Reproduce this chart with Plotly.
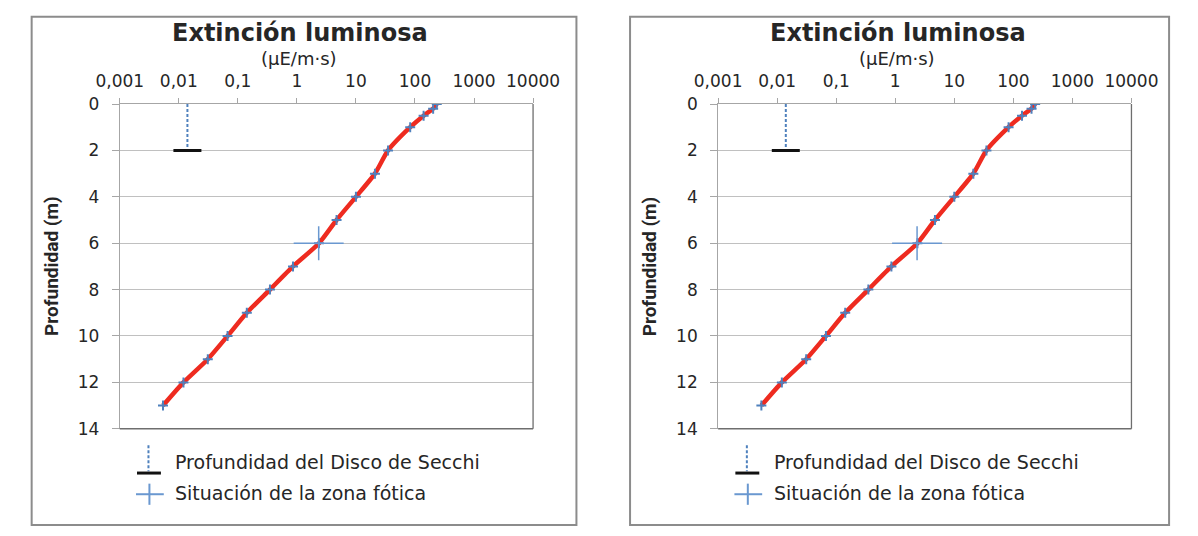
import plotly.graph_objects as go

# ---- data -------------------------------------------------------------
depth_m = [0, 0.2, 0.5, 1, 2, 3, 4, 5, 6, 7, 8, 9, 10, 11, 12, 13]
light_uE = [234, 203, 140, 83, 35, 21, 10, 4.7, 2.37, 0.86, 0.35, 0.142,
            0.067, 0.031, 0.012, 0.0054]

secchi_depth = 2.0
secchi_x = 0.014
photic_depth = 6.0
photic_fraction = 0.01            # 1 % of surface irradiance

x_tickvals = [0.001, 0.01, 0.1, 1, 10, 100, 1000, 10000]
x_ticktext = ["0,001", "0,01", "0,1", "1", "10", "100", "1000", "10000"]
y_tickvals = [0, 2, 4, 6, 8, 10, 12, 14]

title_text = "Extinción luminosa"
unit_text = "(μE/m·s)"
ytitle_text = "Profundidad (m)"
legend_secchi = "Profundidad del Disco de Secchi"
legend_photic = "Situación de la zona fótica"

# ---- styling / layout helpers ----------------------------------------
W, H = 1198, 536
BLUE = "#4F81BD"
RED = "#EE2B20"
FONT = "DejaVu Sans, Open Sans, sans-serif"
NARROW = "Liberation Sans Narrow, Arial Narrow, Roboto, sans-serif"
TXT = "#262626"
SYM = 1.4          # plotly line symbols are 1.4 x marker size long


def px(x):
    return x / W


def py(y):
    return 1 - y / H


PANEL_SHIFT = 625
plot_left, plot_right = 100, 531.7
plot_top, plot_bottom = 97.7, 435

fig = go.Figure()
shapes = []
annotations = []

for i in range(2):
    dx = i * PANEL_SHIFT
    xa = "x" if i == 0 else "x2"
    ya = "y" if i == 0 else "y2"
    xname = "xaxis" if i == 0 else "xaxis2"
    yname = "yaxis" if i == 0 else "yaxis2"

    # attenuation profile
    fig.add_trace(go.Scatter(
        x=light_uE, y=depth_m, mode="lines",
        line=dict(color=RED, width=4.5, shape="spline", smoothing=0.6),
        xaxis=xa, yaxis=ya, showlegend=False, hoverinfo="skip"))
    fig.add_trace(go.Scatter(
        x=light_uE, y=depth_m, mode="markers",
        marker=dict(symbol="cross-thin", size=10 / SYM,
                    line=dict(color=BLUE, width=2)),
        xaxis=xa, yaxis=ya, showlegend=False))

    # Secchi disc depth: dashed drop line with a black bar
    fig.add_trace(go.Scatter(
        x=[secchi_x, secchi_x], y=[0, secchi_depth], mode="lines",
        line=dict(color=BLUE, width=2, dash="3px,2px"),
        xaxis=xa, yaxis=ya, showlegend=False, hoverinfo="skip"))
    fig.add_trace(go.Scatter(
        x=[secchi_x], y=[secchi_depth], mode="markers",
        marker=dict(symbol="line-ew", size=28 / SYM,
                    line=dict(color="#111111", width=3)),
        xaxis=xa, yaxis=ya, showlegend=False))

    # photic zone limit (1 % of surface light)
    photic_x = light_uE[0] * photic_fraction
    for sym, size in (("line-ew", 50), ("line-ns", 34)):
        fig.add_trace(go.Scatter(
            x=[photic_x], y=[photic_depth], mode="markers",
            marker=dict(symbol=sym, size=size / SYM,
                        line=dict(color="#6A98D0", width=1.5)),
            xaxis=xa, yaxis=ya, showlegend=False))

    # axes
    fig.update_layout({
        xname: dict(
            type="log", range=[-3, 4], side="top",
            domain=[px(plot_left + dx), px(plot_right + dx)],
            anchor=ya, tickvals=x_tickvals, ticktext=x_ticktext,
            ticks="outside", ticklen=5, tickcolor="#A6A6A6",
            ticklabelstandoff=4,
            showgrid=False, zeroline=False,
            showline=True, linecolor="#A6A6A6", linewidth=1,
            tickfont=dict(family=FONT, size=17, color=TXT)),
        yname: dict(
            range=[14, 0], domain=[py(plot_bottom), py(plot_top)],
            anchor=xa, tickvals=y_tickvals,
            ticks="outside", ticklen=7, tickcolor="#A6A6A6",
            ticklabelstandoff=9,
            showgrid=True, gridcolor="#C0C0C0", gridwidth=1.2,
            zeroline=False,
            showline=True, linecolor="#A6A6A6", linewidth=1,
            tickfont=dict(family=FONT, size=17, color=TXT)),
    })

    # darker right / bottom edges of the plot area
    shapes.append(dict(type="line", xref="paper", yref="paper",
                       x0=px(plot_right + dx), x1=px(plot_right + dx),
                       y0=py(plot_top), y1=py(plot_bottom),
                       line=dict(color="#6E6E6E", width=1.3)))
    shapes.append(dict(type="line", xref="paper", yref="paper",
                       x0=px(plot_left + dx), x1=px(plot_right + dx),
                       y0=py(plot_bottom), y1=py(plot_bottom),
                       line=dict(color="#6E6E6E", width=1.3)))

    # chart frame
    frame_right = 577 if i == 0 else 1196
    shapes.append(dict(type="rect", xref="paper", yref="paper",
                       x0=px(8 + dx), x1=px(frame_right),
                       y0=py(535), y1=py(7),
                       line=dict(color="#8C8C8C", width=2)))

    # titles
    annotations.append(dict(
        x=px(288 + dx), y=py(24), xref="paper", yref="paper",
        text=f"<b>{title_text}</b>", showarrow=False,
        font=dict(family=FONT, size=24, color=TXT),
        xanchor="center", yanchor="middle"))
    annotations.append(dict(
        x=px(287 + dx), y=py(50), xref="paper", yref="paper",
        text=unit_text, showarrow=False,
        font=dict(family=FONT, size=18, color=TXT),
        xanchor="center", yanchor="middle"))
    annotations.append(dict(
        x=px(28 + dx), y=py(266), xref="paper", yref="paper",
        text=f"<b>{ytitle_text}</b>", showarrow=False, textangle=-90,
        font=dict(family=NARROW, size=19, color=TXT),
        xanchor="center", yanchor="middle"))

    # legend (drawn by hand to reproduce the composite glyphs)
    gx = 130 + dx
    shapes.append(dict(type="line", xref="paper", yref="paper",
                       x0=px(gx), x1=px(gx), y0=py(452), y1=py(479),
                       line=dict(color=BLUE, width=2, dash="3px,2px")))
    shapes.append(dict(type="line", xref="paper", yref="paper",
                       x0=px(gx - 12), x1=px(gx + 13), y0=py(481), y1=py(481),
                       line=dict(color="#111111", width=3)))
    shapes.append(dict(type="line", xref="paper", yref="paper",
                       x0=px(gx - 13), x1=px(gx + 16), y0=py(503), y1=py(503),
                       line=dict(color="#6A98D0", width=2)))
    shapes.append(dict(type="line", xref="paper", yref="paper",
                       x0=px(gx + 1), x1=px(gx + 1), y0=py(492), y1=py(514),
                       line=dict(color="#6A98D0", width=2)))
    annotations.append(dict(
        x=px(156 + dx), y=py(470), xref="paper", yref="paper",
        text=legend_secchi, showarrow=False,
        font=dict(family=FONT, size=19, color=TXT),
        xanchor="left", yanchor="middle"))
    annotations.append(dict(
        x=px(156 + dx), y=py(502), xref="paper", yref="paper",
        text=legend_photic, showarrow=False,
        font=dict(family=FONT, size=19, color=TXT),
        xanchor="left", yanchor="middle"))

fig.update_layout(
    width=W, height=H,
    margin=dict(l=0, r=0, t=0, b=0),
    paper_bgcolor="white", plot_bgcolor="white",
    showlegend=False,
    shapes=shapes, annotations=annotations,
)

fig.write_html(
    "out.html",
    post_script="document.body.style.margin='0';"
                "document.body.style.overflow='hidden';",
)
